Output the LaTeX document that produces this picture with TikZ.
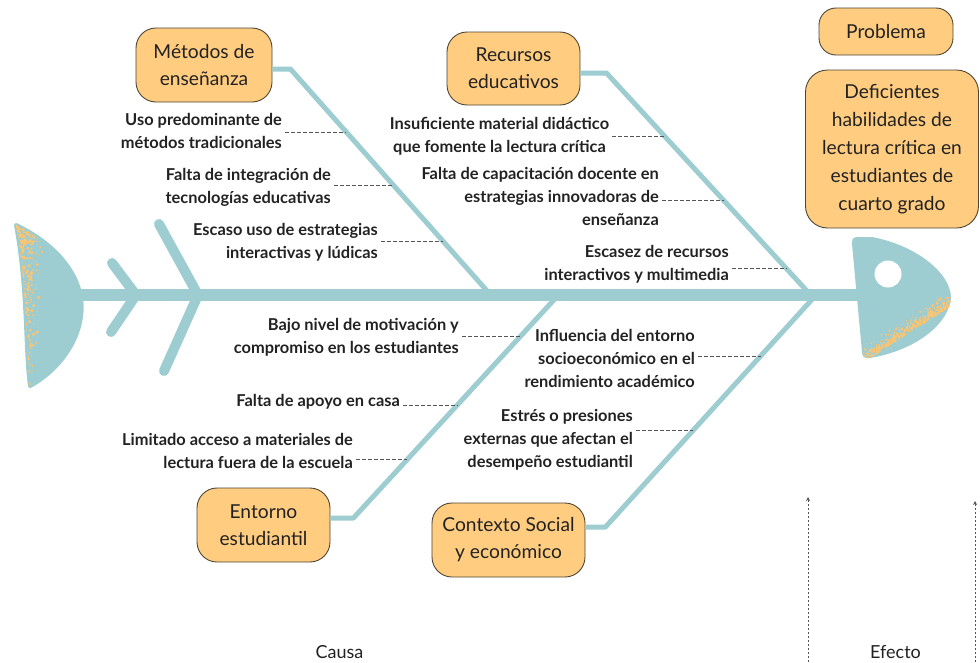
\documentclass[tikz,border=0pt]{standalone}
\usepackage{fontspec}
\setmainfont{Lato}
\usetikzlibrary{arrows.meta}
\definecolor{fish}{HTML}{9DCCD1}
\definecolor{boxfill}{HTML}{FFCC80}
\definecolor{boxdraw}{HTML}{4D4535}
\definecolor{spk}{HTML}{FFC46E}
\definecolor{txt}{HTML}{222222}
\definecolor{dashc}{HTML}{555555}
\begin{document}
\begin{tikzpicture}[x=1pt,y=-1pt,
  catbox/.style={draw=boxdraw, fill=boxfill, line width=0.9pt, rounded corners=20pt,
    align=center, font=\fontsize{19.2}{27}\selectfont, text=txt, inner sep=0pt},
  cause/.style={font=\bfseries\fontsize{16.4}{23}\selectfont, text=txt, inner sep=1pt},
  bone/.style={draw=fish, line width=5pt, line join=round},
  fin/.style={draw=fish, line width=10pt, line cap=round, line join=round},
  ddash/.style={draw=dashc, line width=0.8pt, dash pattern=on 4pt off 2pt},
  darrow/.style={draw=dashc, line width=0.8pt, dash pattern=on 2.5pt off 1.5pt, -{Stealth[length=4pt,width=4pt]}},
  lab/.style={font=\fontsize{18}{22}\selectfont, text=txt, inner sep=0pt}
]
\useasboundingbox (0,0) rectangle (980,662);
% ---------- tail ----------
\def\tailpath{(16,225) .. controls (48,240) and (76,266) .. (81,298) .. controls (86,335) and (60,370) .. (30,386) .. controls (25,350) and (28,290) .. (16,225) -- cycle}
\fill[fish, draw=fish, line width=4pt, line join=round] \tailpath;
\begin{scope}
  \clip \tailpath;
  \pgfmathsetseed{12}
  \foreach \i in {1,...,900}{
    \pgfmathsetmacro\ry{222+166*rnd^1.3}
    \pgfmathsetmacro\rx{12+(36-14*(\ry-222)/166)*rnd*rnd}
    \pgfmathsetmacro\rr{0.5+1.3*rnd}
    \fill[spk] (\rx,\ry) circle (\rr);
  }
\end{scope}
% ---------- head ----------
\def\headpath{(856,237) -- (872,237) .. controls (915,245) and (950,272) .. (951,297) .. controls (950,322) and (918,350) .. (870,358) .. controls (864,359) and (862,356) .. (862,352) -- (852,244) .. controls (852,239) and (853,237) .. (856,237) -- cycle}
\fill[fish] \headpath;
\begin{scope}
  \clip \headpath;
  \pgfmathsetseed{5}
  \foreach \i in {1,...,450}{
    \pgfmathsetmacro\rx{860+92*rnd}
    \pgfmathsetmacro\ry{360-58*(\rx-860)/90+4-16*rnd*rnd}
    \pgfmathsetmacro\rr{0.4+1.0*rnd}
    \fill[spk] (\rx,\ry) circle (\rr);
  }
\end{scope}
\fill[white] (888,274) circle (13.5);
% ---------- fins ----------
\draw[fin] (112,263) -- (136,295) -- (111,332);
\draw[fin] (159,224) -- (198,295) -- (164,371);
% ---------- spine ----------
\coordinate (sL) at (75,295);
\coordinate (sR) at (862,295);
\draw[draw=fish, line width=12pt] (sL) -- (sR);
% ---------- category boxes ----------
\node[catbox, minimum width=136pt, minimum height=74pt] (met) at (204,65) {Métodos de\\enseñanza};
\node[catbox, minimum width=133pt, minimum height=73pt] (rec) at (513.5,68.5) {Recursos\\educativos};
\node[catbox, minimum width=133pt, minimum height=74pt] (ent) at (263.5,525) {Entorno\\estudiantil};
\node[catbox, minimum width=153pt, minimum height=74pt] (ctx) at (508.5,540) {Contexto Social\\y económico};
\node[catbox, rounded corners=17pt, minimum width=134pt, minimum height=47pt] (prob) at (886,31.5) {Problema};
\node[catbox, rounded corners=22pt, font=\fontsize{19.2}{28}\selectfont, minimum width=173pt, minimum height=158pt] (def) at (892,149) {Deficientes\\habilidades de\\lectura crítica en\\estudiantes de\\cuarto grado};
% ---------- bones ----------
\coordinate (mS) at (490.7,295);
\coordinate (rS) at (810.7,295);
\coordinate (eS) at (558.4,295);
\coordinate (cS) at (816,295);
\draw[bone] ([yshift=-4pt]met.east) -- ++(18,0) coordinate (mK) -- (mS);
\draw[bone] ([yshift=-4.5pt]rec.east) -- ++(26,0) coordinate (rK) -- (rS);
\draw[bone] ([yshift=7pt]ent.east) -- ++(23,0) coordinate (eK) -- (eS);
\draw[bone] ([yshift=13pt]ctx.east) -- ++(20,0) coordinate (cK) -- (cS);
% points on bones
\coordinate (b1) at (345.9,132);
\coordinate (b2) at (393.0,185);
\coordinate (b3) at (442.7,241);
\coordinate (b4) at (665.5,136);
\coordinate (b5) at (724.0,200);
\coordinate (b6) at (786.1,268);
\coordinate (b7) at (520.7,336);
\coordinate (b8) at (457.1,405);
\coordinate (b9) at (407.4,459);
\coordinate (b10) at (760.6,356);
\coordinate (b11) at (693.3,430);
% ---------- causes (anchored at last baseline) ----------
\node[cause, align=right, anchor=base east] (t1) at (283,148) {Uso predominante de\\métodos tradicionales};
\node[cause, align=right, anchor=base east] (t2) at (332,203) {Falta de integración de\\tecnologías educativas};
\node[cause, align=right, anchor=base east] (t3) at (379,258) {Escaso uso de estrategias\\interactivas y lúdicas};
\node[cause, align=center, anchor=base] (t4) at (499.5,152) {Insuficiente material didáctico\\que fomente la lectura crítica};
\node[cause, align=right, anchor=base east] (t5) at (660,225) {Falta de capacitación docente en\\estrategias innovadoras de\\enseñanza};
\node[cause, align=right, anchor=base east] (t6) at (730,280) {Escasez de recursos\\interactivos y multimedia};
\node[cause, align=right, anchor=base east] (t7) at (460,353) {Bajo nivel de motivación y\\compromiso en los estudiantes};
\node[cause, align=right, anchor=base east] (t8) at (401,406) {Falta de apoyo en casa};
\node[cause, align=right, anchor=base east] (t9) at (354,468) {Limitado acceso a materiales de\\lectura fuera de la escuela};
\node[cause, align=right, anchor=base east] (t10) at (696,387) {Influencia del entorno\\socioeconómico en el\\rendimiento académico};
\node[cause, align=right, anchor=base east] (t11) at (634,467) {Estrés o presiones\\externas que afectan el\\desempeño estudiantil};
\foreach \t/\b in {t1/b1,t2/b2,t3/b3,t4/b4,t5/b5,t6/b6,t7/b7,t8/b8,t9/b9,t10/b10,t11/b11}{
  \draw[ddash] ([xshift=2pt]\t.east |- \b) -- (\b);
}
% ---------- bottom labels ----------
\node[lab, anchor=base] (causa) at (339.5,658) {Causa};
\node[lab, anchor=base] (efecto) at (895.5,658) {Efecto};
\coordinate (a1s) at (808,662);
\coordinate (a1e) at (808,497);
\coordinate (a2s) at (975,662);
\coordinate (a2e) at (975,501);
\draw[darrow] (a1s) -- (a1e);
\draw[darrow] (a2s) -- (a2e);
\end{tikzpicture}
\end{document}
